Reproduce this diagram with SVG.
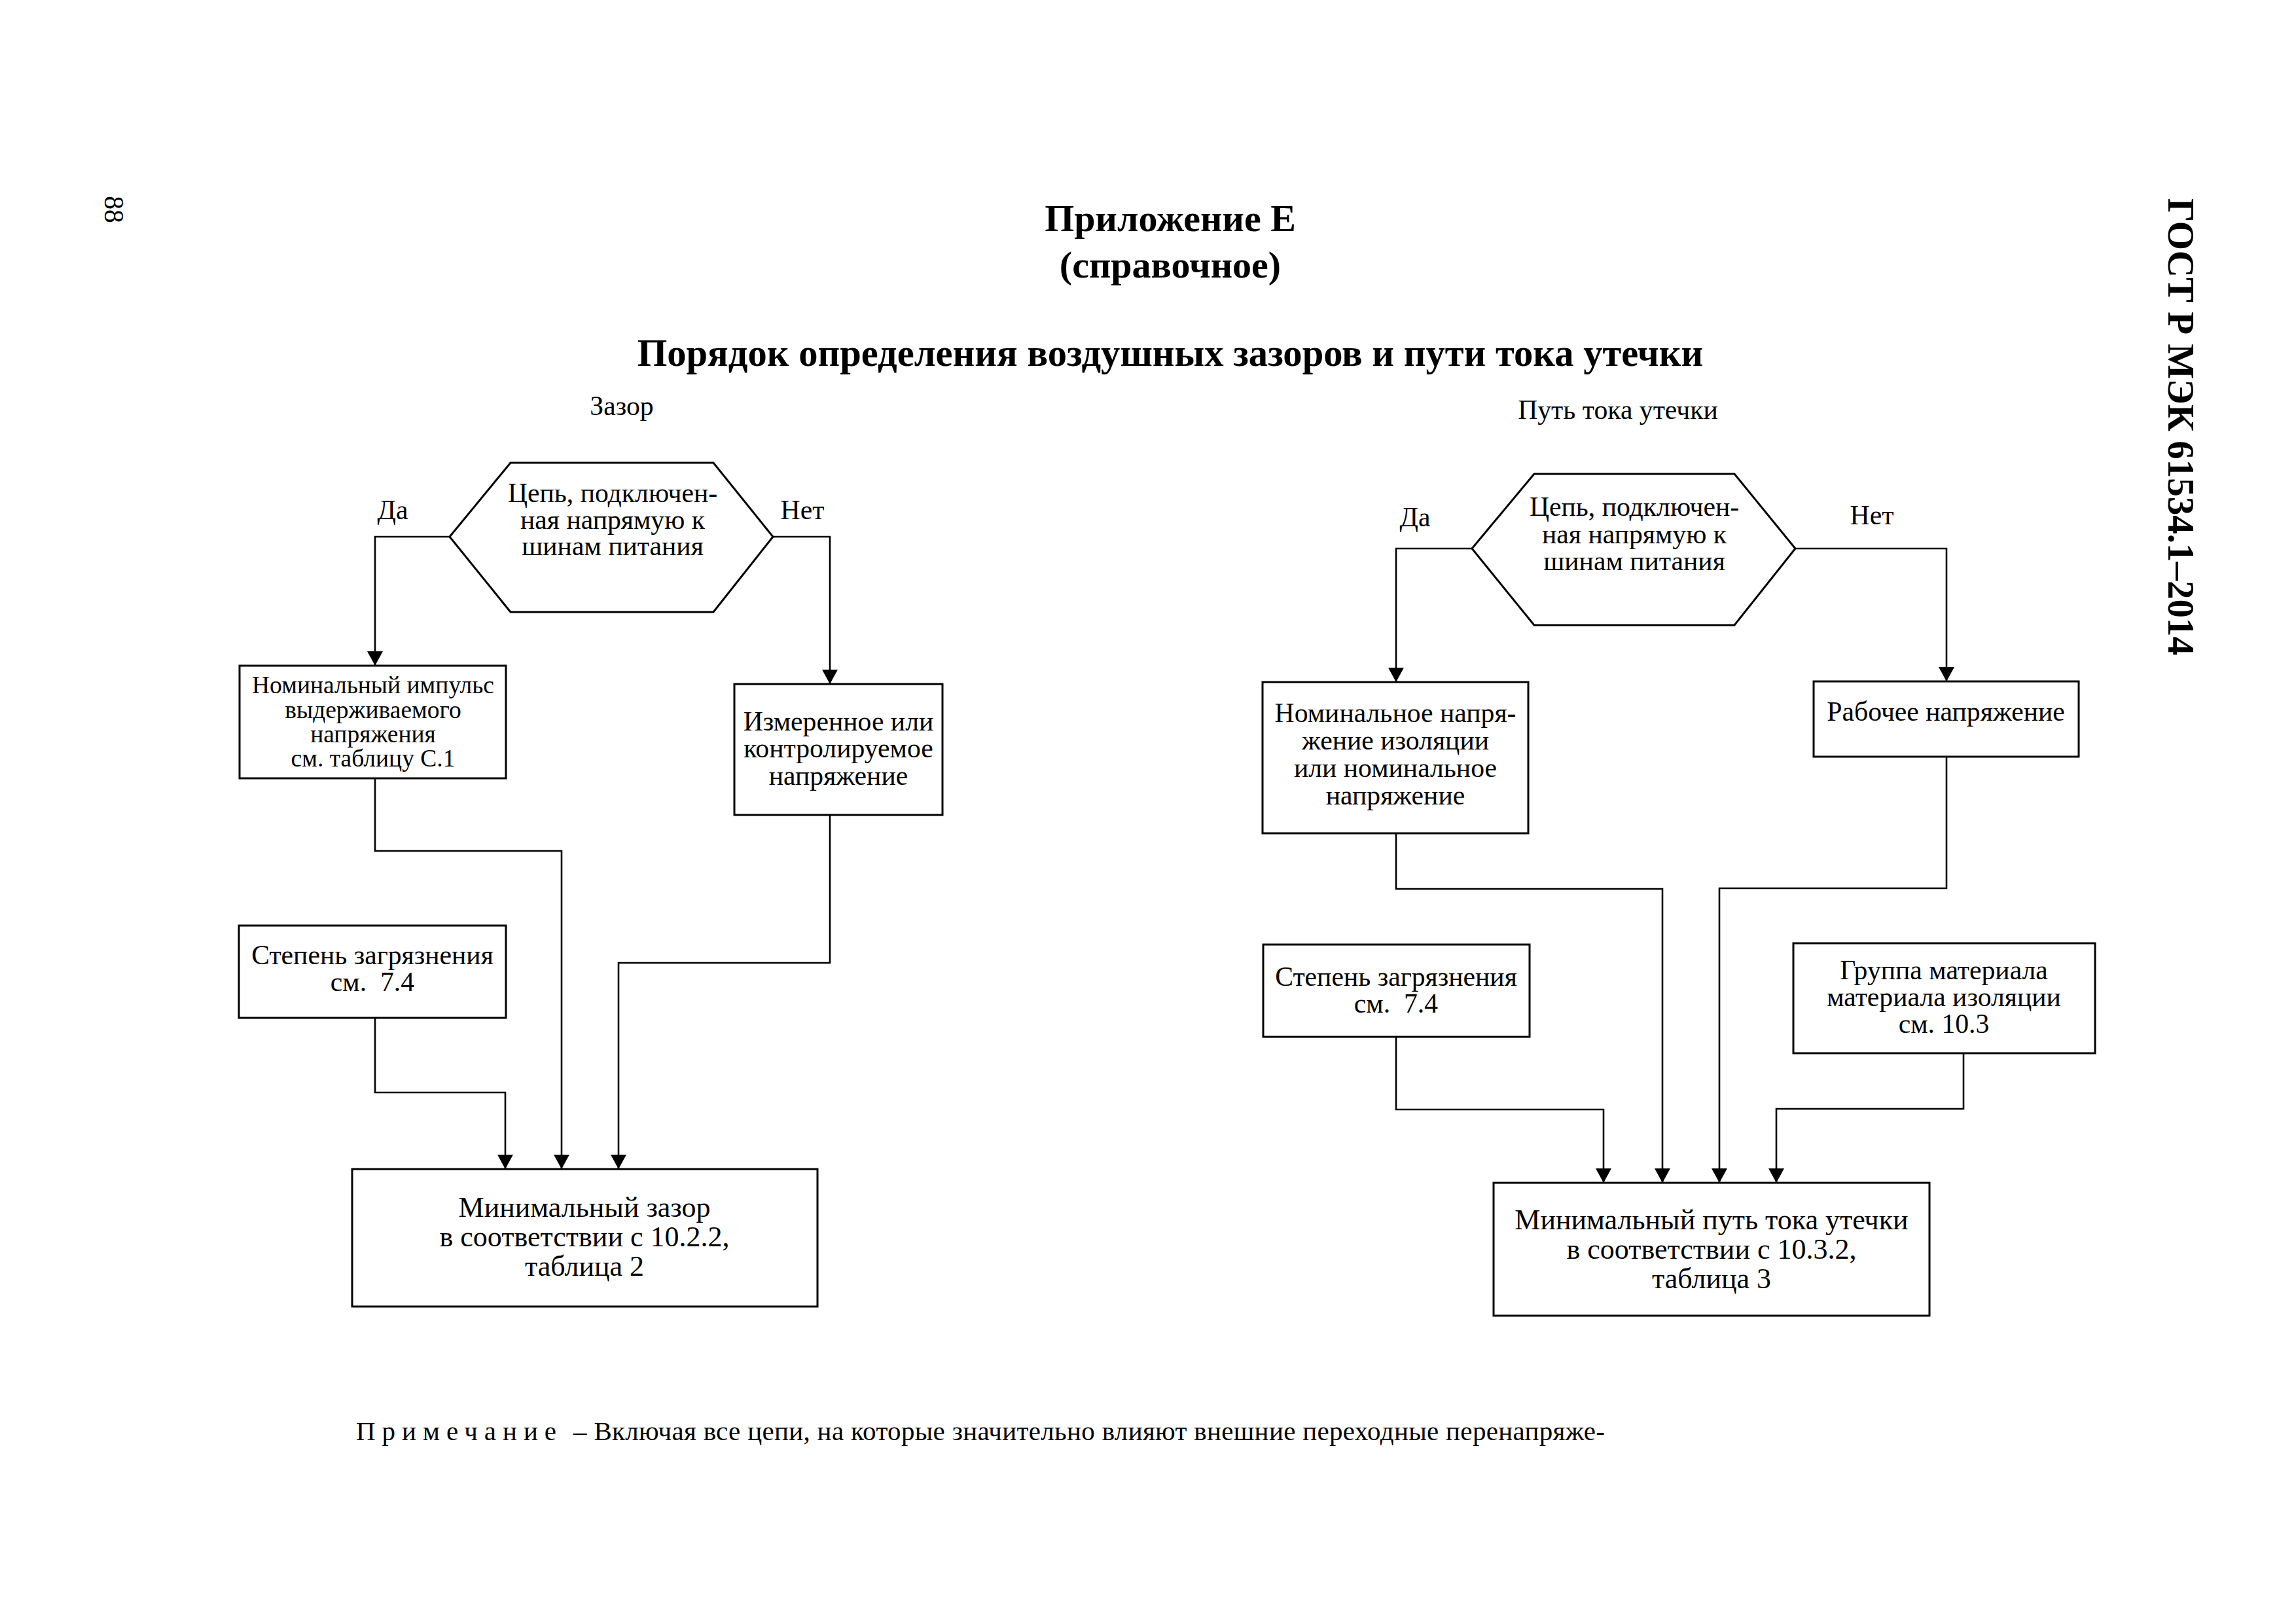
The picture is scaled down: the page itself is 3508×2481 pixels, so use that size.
<svg xmlns="http://www.w3.org/2000/svg" width="3508" height="2481" viewBox="0 0 3508 2481">
<style>
.t{font-family:"Liberation Serif","Times New Roman",serif;font-size:41.7px;text-anchor:middle;fill:#000}
.s{font-size:37.5px}
.l{font-size:44px}
.h{font-weight:bold;font-size:58px}
.box{fill:#fff;stroke:#000;stroke-width:3}
.edge{fill:none;stroke:#000;stroke-width:2.6;marker-end:url(#arr)}
</style>
<defs>
<marker id="arr" viewBox="0 0 22 24" refX="22" refY="12" markerWidth="22" markerHeight="24" markerUnits="userSpaceOnUse" orient="auto">
<path d="M0,0 L22,12 L0,24 Z" fill="#000"/>
</marker>
</defs>
<rect x="0" y="0" width="3508" height="2481" fill="#fff"/>

<g id="page-header">
<text class="t" font-size="48" transform="translate(160,320) rotate(90)">88</text>
<text class="t" style="font-weight:bold;font-size:57px" transform="translate(3313,652) rotate(90)">ГОСТ Р МЭК 61534.1–2014</text>
<text class="t h" x="1788" y="353">Приложение Е</text>
<text class="t h" x="1788" y="424">(справочное)</text>
<text class="t h" style="font-size:58.6px" x="1788" y="559">Порядок определения воздушных зазоров и пути тока утечки</text>
<text class="t" x="950" y="634">Зазор</text>
<text class="t" x="2472" y="640">Путь тока утечки</text>
</g>

<g id="connectors">
<path class="edge" d="M687,820 H573 V1017"/>
<path class="edge" d="M1181,820 H1268 V1045"/>
<path class="edge" d="M573,1189 V1300 H858 V1786"/>
<path class="edge" d="M1268,1245 V1471 H945 V1786"/>
<path class="edge" d="M573,1555 V1669 H772 V1786"/>
<path class="edge" d="M2249,838 H2133 V1042"/>
<path class="edge" d="M2743,838 H2974 V1041"/>
<path class="edge" d="M2133,1273 V1358 H2540 V1807"/>
<path class="edge" d="M2974,1156 V1357 H2627 V1807"/>
<path class="edge" d="M2133,1584 V1695 H2450 V1807"/>
<path class="edge" d="M3000,1609 V1694 H2714 V1807"/>
<text class="t" x="600" y="793">Да</text>
<text class="t" x="1226" y="793">Нет</text>
<text class="t" x="2162" y="804">Да</text>
<text class="t" x="2860" y="801">Нет</text>
</g>

<g id="decision-left">
<polygon class="box" points="687,820 780,707 1090,707 1181,820 1090,935 780,935"/>
<text class="t" x="936" y="767">Цепь, подключен-</text>
<text class="t" x="936" y="808">ная напрямую к</text>
<text class="t" x="936" y="848">шинам питания</text>
</g>

<g id="impulse-voltage">
<rect class="box" x="366" y="1017" width="407" height="172"/>
<text class="t s" x="570" y="1059">Номинальный импульс</text>
<text class="t s" x="570" y="1097">выдерживаемого</text>
<text class="t s" x="570" y="1134">напряжения</text>
<text class="t s" x="570" y="1171">см. таблицу С.1</text>
</g>

<g id="measured-voltage">
<rect class="box" x="1122" y="1045" width="318" height="200"/>
<text class="t" x="1281" y="1116">Измеренное или</text>
<text class="t" x="1281" y="1157">контролируемое</text>
<text class="t" x="1281" y="1199">напряжение</text>
</g>

<g id="pollution-left">
<rect class="box" x="365" y="1414" width="408" height="141"/>
<text class="t" x="569" y="1473">Степень загрязнения</text>
<text class="t" x="569" y="1514" xml:space="preserve">см.  7.4</text>
</g>

<g id="min-clearance">
<rect class="box" x="538" y="1786" width="711" height="210"/>
<text class="t l" x="893" y="1859">Минимальный зазор</text>
<text class="t l" x="893" y="1904">в соответствии с 10.2.2,</text>
<text class="t l" x="893" y="1949">таблица 2</text>
</g>

<g id="decision-right">
<polygon class="box" points="2249,838 2344,724 2650,724 2743,838 2650,955 2344,955"/>
<text class="t" x="2497" y="788">Цепь, подключен-</text>
<text class="t" x="2497" y="830">ная напрямую к</text>
<text class="t" x="2497" y="871">шинам питания</text>
</g>

<g id="rated-insulation-voltage">
<rect class="box" x="1929" y="1042" width="406" height="231"/>
<text class="t" x="2132" y="1103">Номинальное напря-</text>
<text class="t" x="2132" y="1145">жение изоляции</text>
<text class="t" x="2132" y="1187">или номинальное</text>
<text class="t" x="2132" y="1229">напряжение</text>
</g>

<g id="working-voltage">
<rect class="box" x="2771" y="1041" width="405" height="115"/>
<text class="t" x="2973" y="1101">Рабочее напряжение</text>
</g>

<g id="pollution-right">
<rect class="box" x="1930" y="1443" width="407" height="141"/>
<text class="t" x="2133" y="1506">Степень загрязнения</text>
<text class="t" x="2133" y="1547" xml:space="preserve">см.  7.4</text>
</g>

<g id="material-group">
<rect class="box" x="2740" y="1441" width="461" height="168"/>
<text class="t" x="2970" y="1496">Группа материала</text>
<text class="t" x="2970" y="1537">материала изоляции</text>
<text class="t" x="2970" y="1578">см. 10.3</text>
</g>

<g id="min-creepage">
<rect class="box" x="2282" y="1807" width="666" height="203"/>
<text class="t l" x="2615" y="1878">Минимальный путь тока утечки</text>
<text class="t l" x="2615" y="1923">в соответствии с 10.3.2,</text>
<text class="t l" x="2615" y="1968">таблица 3</text>
</g>

<g id="note">
<text class="t" style="text-anchor:start;font-size:41px" x="544" y="2200" letter-spacing="10">Примечание</text>
<text class="t" style="text-anchor:start;font-size:41px" x="876" y="2200" textLength="1576" lengthAdjust="spacing">– Включая все цепи, на которые значительно влияют внешние переходные перенапряже-</text>
</g>
</svg>
